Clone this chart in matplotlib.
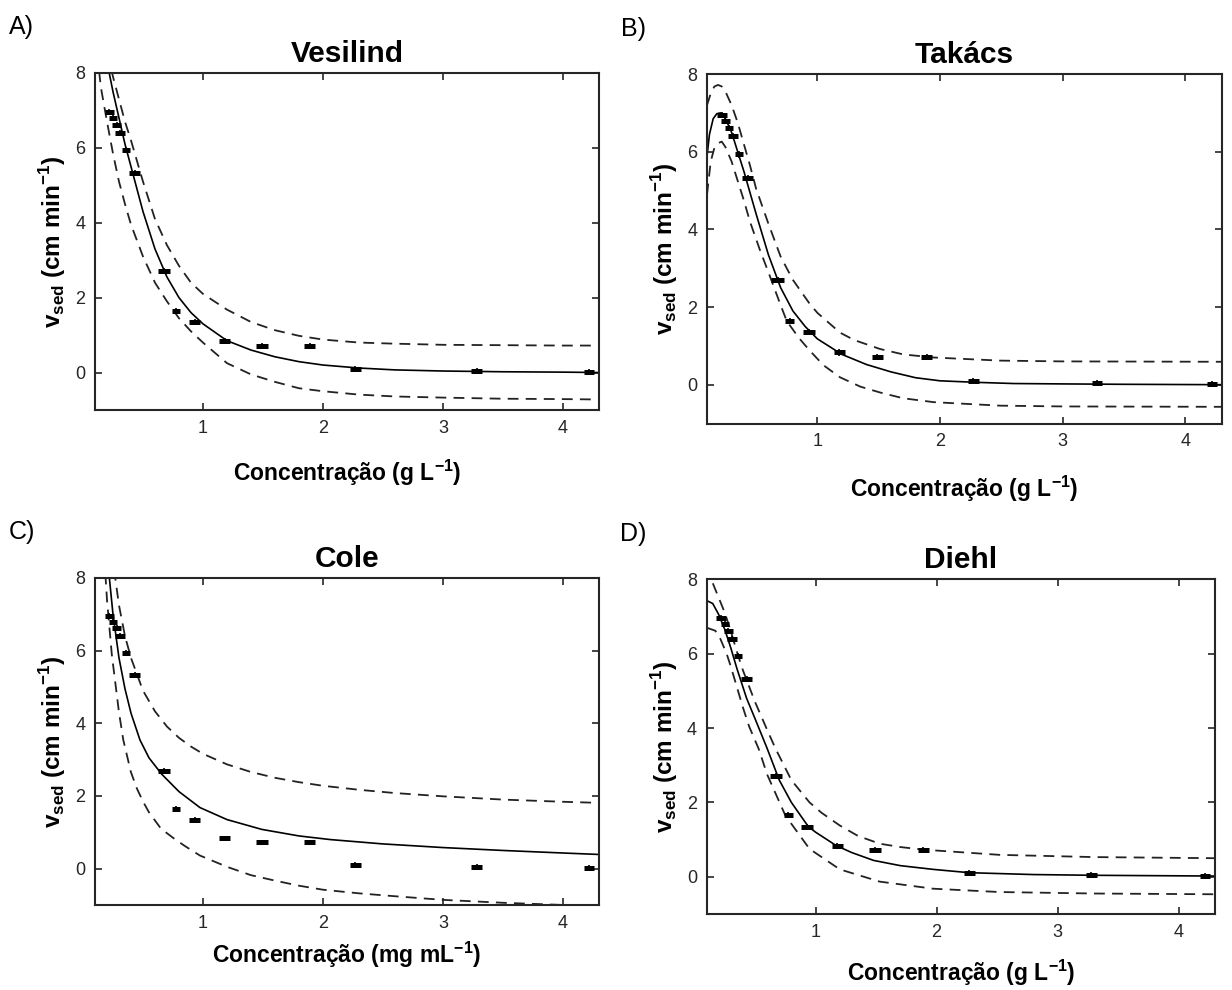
import matplotlib
matplotlib.use("Agg")
import matplotlib.pyplot as plt

plt.rcParams['font.family'] = ['Liberation Sans', 'DejaVu Sans']
plt.rcParams['mathtext.fontset'] = 'custom'
plt.rcParams['mathtext.rm'] = 'Liberation Sans'
plt.rcParams['mathtext.bf'] = 'Liberation Sans:bold'

# ---------------- measured data (same for every panel) ----------------
conc = [0.22, 0.25, 0.28, 0.31, 0.36, 0.43, 0.675, 0.775, 0.93, 1.18, 1.49, 1.89, 2.27, 3.28, 4.22]
vsed = [6.95, 6.8, 6.62, 6.4, 5.93, 5.32, 2.7, 1.65, 1.35, 0.83, 0.72, 0.72, 0.1, 0.04, 0.02]
conc_err = [0.04, 0.035, 0.035, 0.04, 0.035, 0.045, 0.05, 0.037, 0.048, 0.048, 0.048, 0.047, 0.044, 0.044, 0.042]
vsed_err = [0.08, 0.08, 0.08, 0.08, 0.08, 0.08, 0.08, 0.08, 0.08, 0.08, 0.08, 0.08, 0.08, 0.08, 0.08]

# ---------------- A) Vesilind ----------------
ves_x = [0.1, 0.15, 0.2, 0.25, 0.3, 0.35, 0.4, 0.5, 0.6, 0.7, 0.8, 0.9, 1.0, 1.2, 1.4, 1.6, 1.8, 2.0, 2.3, 2.6, 3.0, 3.5, 4.0, 4.3]
ves_fit = [10.5, 9.3, 8.3, 7.5, 6.8, 6.1, 5.5, 4.3, 3.3, 2.55, 2.0, 1.6, 1.3, 0.85, 0.6, 0.42, 0.29, 0.2, 0.12, 0.07, 0.04, 0.02, 0.01, 0.0]
ves_up = [11.0, 9.8, 8.6, 7.9, 7.3, 6.7, 6.2, 5.1, 4.1, 3.4, 2.85, 2.4, 2.1, 1.68, 1.35, 1.13, 0.98, 0.88, 0.8, 0.77, 0.74, 0.73, 0.72, 0.72]
ves_lo = [9.0, 7.6, 6.7, 5.85, 5.1, 4.5, 3.95, 3.1, 2.4, 1.9, 1.45, 1.1, 0.8, 0.25, -0.05, -0.25, -0.42, -0.5, -0.59, -0.64, -0.67, -0.7, -0.71, -0.72]

# ---------------- B) Takács ----------------
tak_x = [0.1, 0.12, 0.15, 0.18, 0.21, 0.25, 0.3, 0.35, 0.4, 0.5, 0.6, 0.7, 0.8, 0.9, 1.0, 1.2, 1.4, 1.6, 1.8, 2.0, 2.3, 2.6, 3.0, 3.5, 4.3]
tak_fit = [5.9, 6.45, 6.85, 6.98, 7.0, 6.85, 6.5, 6.0, 5.5, 4.4, 3.35, 2.5, 1.9, 1.5, 1.18, 0.78, 0.52, 0.33, 0.18, 0.1, 0.06, 0.03, 0.02, 0.01, 0.0]
tak_up_x = [0.1, 0.13, 0.16, 0.19, 0.22, 0.25, 0.3, 0.35, 0.4, 0.45, 0.5, 0.6, 0.7, 0.8, 0.94, 1.0, 1.185, 1.3, 1.51, 1.7, 1.95, 2.49, 3.0, 4.3]
tak_up = [7.2, 7.5, 7.68, 7.72, 7.68, 7.55, 7.2, 6.75, 6.2, 5.65, 5.05, 4.15, 3.3, 2.7, 2.07, 1.85, 1.34, 1.15, 0.92, 0.78, 0.7, 0.62, 0.6, 0.59]
tak_lo_x = [0.1, 0.13, 0.16, 0.19, 0.22, 0.25, 0.3, 0.35, 0.4, 0.45, 0.5, 0.53, 0.6, 0.7, 0.75, 0.85, 0.94, 1.05, 1.185, 1.35, 1.51, 1.7, 1.95, 2.49, 3.0, 4.3]
tak_lo = [4.9, 5.75, 6.1, 6.22, 6.26, 6.12, 5.75, 5.25, 4.75, 4.2, 3.75, 3.48, 2.9, 2.05, 1.64, 1.2, 0.87, 0.5, 0.19, -0.05, -0.2, -0.35, -0.45, -0.54, -0.56, -0.57]

# ---------------- C) Cole ----------------
cole_x = [0.15, 0.2, 0.22, 0.25, 0.3, 0.35, 0.4, 0.475, 0.55, 0.656, 0.8, 0.975, 1.2, 1.49, 1.8, 2.06, 2.5, 3.0, 3.5, 4.0, 4.3]
cole_fit = [12.0, 9.0, 8.0, 7.0, 5.8, 4.95, 4.28, 3.54, 3.05, 2.6, 2.12, 1.68, 1.35, 1.08, 0.9, 0.8, 0.68, 0.58, 0.5, 0.43, 0.39]
cole_up_x = [0.2, 0.25, 0.3, 0.35, 0.4, 0.5, 0.6, 0.7, 0.8, 0.9, 1.0, 1.2, 1.4, 1.6, 1.8, 2.0, 2.3, 2.6, 3.0, 3.5, 4.0, 4.3]
cole_up = [10.2, 8.45, 7.25, 6.4, 5.8, 4.9, 4.33, 3.91, 3.6, 3.36, 3.16, 2.87, 2.66, 2.5, 2.38, 2.28, 2.17, 2.08, 1.99, 1.9, 1.84, 1.81]
cole_lo_x = [0.15, 0.183, 0.2, 0.24, 0.3, 0.336, 0.4, 0.45, 0.5, 0.55, 0.65, 0.75, 0.85, 0.975, 1.2, 1.4, 1.6, 1.8, 2.0, 2.3, 2.6, 3.0, 3.5, 4.0, 4.3]
cole_lo = [11.1, 8.3, 7.4, 5.9, 4.3, 3.54, 2.65, 2.2, 1.85, 1.55, 1.1, 0.85, 0.62, 0.36, 0.05, -0.18, -0.33, -0.47, -0.58, -0.68, -0.76, -0.86, -0.94, -1.0, -1.03]

# ---------------- D) Diehl ----------------
die_x = [0.1, 0.15, 0.2, 0.25, 0.3, 0.35, 0.4, 0.43, 0.5, 0.6, 0.7, 0.8, 0.94, 1.0, 1.17, 1.3, 1.48, 1.7, 1.97, 2.27, 2.8, 3.3, 4.3]
die_fit = [7.43, 7.35, 7.05, 6.65, 6.15, 5.6, 5.1, 4.8, 4.25, 3.45, 2.6, 2.0, 1.35, 1.2, 0.84, 0.65, 0.44, 0.3, 0.2, 0.11, 0.06, 0.04, 0.02]
die_up_x = [0.1, 0.15, 0.2, 0.25, 0.3, 0.35, 0.4, 0.5, 0.6, 0.67, 0.8, 0.95, 1.05, 1.2, 1.35, 1.53, 1.7, 1.89, 2.52, 3.3, 4.3]
die_up = [8.35, 7.9, 7.5, 7.1, 6.6, 6.05, 5.55, 4.7, 3.95, 3.44, 2.6, 2.0, 1.72, 1.38, 1.1, 0.89, 0.8, 0.73, 0.59, 0.53, 0.5]
die_lo_x = [0.1, 0.17, 0.2, 0.265, 0.3, 0.35, 0.4, 0.45, 0.53, 0.6, 0.75, 0.95, 1.2, 1.53, 1.97, 2.52, 3.3, 4.3]
die_lo = [6.7, 6.62, 6.5, 6.0, 5.65, 5.1, 4.55, 4.05, 3.44, 2.75, 1.65, 0.75, 0.2, -0.13, -0.32, -0.41, -0.45, -0.47]

fig = plt.figure(figsize=(12.32, 9.9), dpi=100)

# letter, title, axes rect, fit, upper band, lower band, x label, x label pad
panels = [
    ("A)", "Vesilind", [0.0771, 0.5859, 0.409, 0.3404], (ves_x, ves_fit), (ves_x, ves_up), (ves_x, ves_lo),
     r"Concentração (g L$^{\mathbf{-1}}$)", 15),
    ("B)", "Takács", [0.5739, 0.5722, 0.418, 0.353], (tak_x, tak_fit), (tak_up_x, tak_up), (tak_lo_x, tak_lo),
     r"Concentração (g L$^{\mathbf{-1}}$)", 17),
    ("C)", "Cole", [0.0771, 0.0859, 0.409, 0.3303], (cole_x, cole_fit), (cole_up_x, cole_up), (cole_lo_x, cole_lo),
     r"Concentração (mg mL$^{\mathbf{-1}}$)", 6),
    ("D)", "Diehl", [0.5736, 0.0768, 0.4125, 0.338], (die_x, die_fit), (die_up_x, die_up), (die_lo_x, die_lo),
     r"Concentração (g L$^{\mathbf{-1}}$)", 12),
]

for letter, title, rect, fit, up, lo, xlab, xpad in panels:
    ax = fig.add_axes(rect)
    ax.plot(fit[0], fit[1], color="black", lw=1.2)
    ax.plot(up[0], up[1], color="#222222", lw=1.3, dashes=(6, 4))
    ax.plot(lo[0], lo[1], color="#222222", lw=1.3, dashes=(6, 4))
    ax.errorbar(conc, vsed, yerr=vsed_err, fmt="none", ecolor="black", elinewidth=1.2, capsize=0)
    ax.errorbar(conc, vsed, xerr=conc_err, fmt="none", ecolor="black", elinewidth=3.6, capsize=0)
    ax.set_xlim(0.1, 4.3)
    ax.set_ylim(-1, 8)
    ax.set_xticks([1, 2, 3, 4])
    ax.set_yticks([0, 2, 4, 6, 8])
    ax.tick_params(direction="in", top=True, right=True, length=5, width=1.2,
                   labelsize=13, colors="#262626", pad=7)
    for s in ax.spines.values():
        s.set_linewidth(1.5)
        s.set_color("#262626")
    ax.set_title(title, fontsize=21.5, fontweight="bold", pad=8)
    ax.set_xlabel(xlab, fontsize=16.5, fontweight="bold", labelpad=xpad)
    ax.set_ylabel(r"$\mathbf{v_{sed}}$ (cm min$^{\mathbf{-1}}$)", fontsize=17.5, fontweight="bold", labelpad=5)
    fig.text(rect[0] - 0.07, rect[1] + rect[3] + 0.046, letter, fontsize=18, va="center")

fig.savefig("out.png", dpi=100)
